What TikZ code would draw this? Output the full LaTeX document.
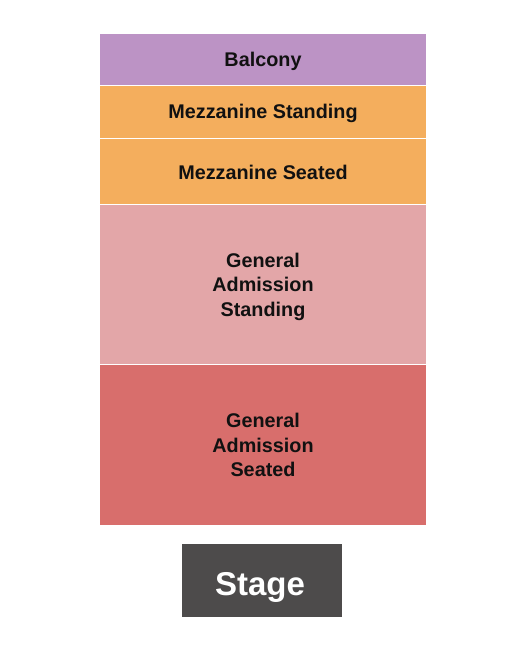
\documentclass[tikz,border=0pt]{standalone}
\usepackage{fontspec}
\setmainfont{Liberation Sans}
\definecolor{balc}{HTML}{BC93C5}
\definecolor{mezz}{HTML}{F4AE5D}
\definecolor{gastand}{HTML}{E3A6A8}
\definecolor{gaseat}{HTML}{D86E6C}
\definecolor{stagec}{HTML}{4D4B4B}
\definecolor{txt}{HTML}{111111}
\begin{document}
\begin{tikzpicture}[x=1pt,y=-1pt,
  section/.style={draw=none,inner sep=0pt,align=center,text=txt,
    font=\fontsize{19.8}{24.5}\selectfont\bfseries},
  stagebox/.style={draw=none,inner sep=0pt,text=white,
    font=\fontsize{33}{36}\selectfont\bfseries}]
\useasboundingbox (0,0) rectangle (525,650);
\fill[white] (0,0) rectangle (525,650);
% sections
\fill[balc] (100,34) rectangle (426,85);
\fill[mezz] (100,86) rectangle (426,137.5);
\fill[mezz] (100,139) rectangle (426,204);
\fill[gastand] (100,205) rectangle (426,363.5);
\fill[gaseat] (100,365) rectangle (426,524.5);
\fill[stagec] (182,544) rectangle (342,616.5);
\node[section] (balcony) at (263,61.5) {Balcony};
\node[section] (mezzstand) at (263,113.5) {Mezzanine Standing};
\node[section] (mezzseat) at (263,172.5) {Mezzanine Seated};
\node[section] (gastanding) at (263,286.5) {General\\Admission\\Standing};
\node[section] (gaseated) at (263,445) {General\\Admission\\Seated};
\node[stagebox] (stage) at (260,587.5) {Stage};
\end{tikzpicture}
\end{document}
